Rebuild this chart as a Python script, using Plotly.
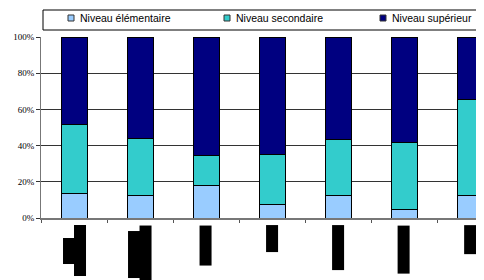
import plotly.graph_objects as go

categories = ["Pays A", "Pays B", "Pays C", "Pays D", "Pays E", "Pays F", "Pays G"]
elementaire = [13.3, 12.5, 17.8, 7.6, 12.2, 4.8, 12.2]
secondaire = [38.2, 31.5, 16.6, 27.4, 31.4, 37.0, 53.2]
superieur = [48.5, 56.0, 65.6, 65.0, 56.4, 58.2, 34.6]
series_names = ["Niveau élémentaire", "Niveau secondaire", "Niveau supérieur"]
colors = ["#99CCFF", "#33CCCC", "#000080"]
y_ticks = [0, 20, 40, 60, 80, 100]

# label blobs (rotated labels): (category index, xshift px, top px, length px)
label_lines = [
    (0, -5, 238, 25), (0, 5.5, 225, 50),
    (1, -6.5, 231, 46), (1, 5.5, 225, 55),
    (2, -0.5, 225, 39),
    (3, -0.5, 225, 26),
    (4, -0.5, 225, 44),
    (5, -0.5, 225, 47),
    (6, -0.5, 225, 28),
]

OFF = 8  # default page body margin
W, H = 484 - OFF, 280 - OFF
L, R, H_TOP, H_BOT = 41, 484, 37, 218  # page pixel coords of plot area
def py(p):
    return (H_BOT - p) / (H_BOT - H_TOP)
def px(p):
    return (p - L) / (R - L)

fig = go.Figure()
for name, vals, col in zip(series_names, [elementaire, secondaire, superieur], colors):
    fig.add_trace(go.Bar(
        x=categories, y=vals, name=name,
        marker=dict(color=col, line=dict(color="black", width=1)),
        showlegend=False,
    ))

annotations = []
for ci, xs, top, length in label_lines:
    annotations.append(dict(
        x=categories[ci], xref="x", xshift=xs,
        y=py(top), yref="paper", yanchor="top", xanchor="center",
        text=categories[ci], textangle=-90, showarrow=False,
        font=dict(color="black", size=8, family="Liberation Sans"),
        bgcolor="black", width=length, height=11, borderpad=0,
    ))

# legend (manual)
shapes = [dict(
    type="rect", xref="paper", yref="paper",
    x0=px(43), x1=1.1, y0=py(30), y1=py(10),
    line=dict(color="black", width=1), fillcolor="rgba(0,0,0,0)",
)]
legend_x = [68, 224, 380]
for name, col, lx in zip(series_names, colors, legend_x):
    shapes.append(dict(
        type="rect", xref="paper", yref="paper",
        x0=px(lx), x1=px(lx + 6), y0=py(21), y1=py(15),
        line=dict(color="#333", width=1), fillcolor=col,
    ))
    annotations.append(dict(
        x=px(lx + 10), y=py(17.5), xref="paper", yref="paper",
        xanchor="left", yanchor="middle", text=name, showarrow=False,
        font=dict(family="Liberation Sans", size=10.5, color="black"),
    ))

fig.update_layout(
    width=W, height=H,
    margin=dict(l=L - OFF, r=W - (R - OFF), t=H_TOP - OFF, b=H - (H_BOT - OFF), autoexpand=False),
    paper_bgcolor="white", plot_bgcolor="white",
    barmode="stack", bargap=0.606,
    showlegend=False,
    shapes=shapes,
    annotations=annotations,
    xaxis=dict(
        range=[-0.5, 6.21], showticklabels=False,
        tickson="boundaries", ticks="outside", ticklen=3, tickcolor="#555",
        showline=True, linecolor="#777", linewidth=1.5, showgrid=False,
    ),
    yaxis=dict(
        range=[0, 100], tickvals=y_ticks, ticktext=[f"{v}%" for v in y_ticks],
        ticks="outside", ticklen=4, tickcolor="#333",
        showline=True, linecolor="#777", linewidth=1,
        showgrid=True, gridcolor="#333", gridwidth=1,
        tickfont=dict(family="Liberation Serif", size=9, color="black"),
        zeroline=False,
    ),
)

fig.write_html("out.html")
